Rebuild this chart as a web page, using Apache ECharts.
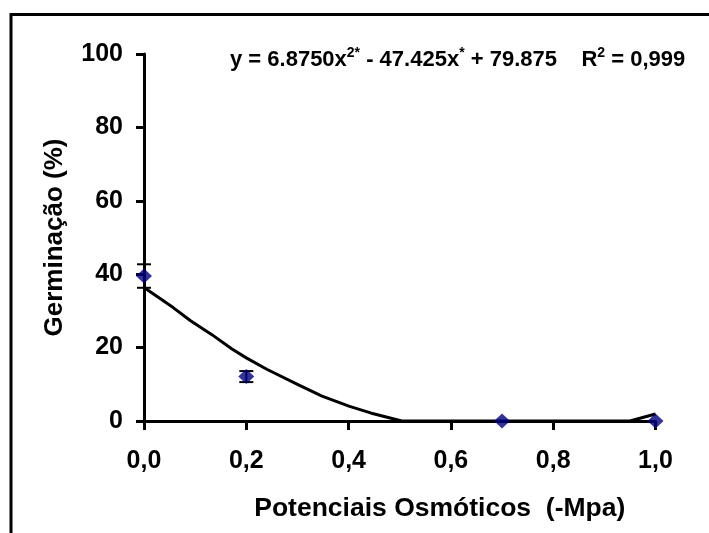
<!DOCTYPE html>
<html>
<head>
<meta charset="utf-8">
<script src="https://cdn.jsdelivr.net/npm/echarts@6/dist/echarts.min.js"></script>
<style>
  html, body { margin: 0; padding: 0; background: #fff; }
  #chart { width: 709px; height: 533px; }
</style>
</head>
<body>
<div id="chart"></div>
<script>
// measured germination points
const potenciais = [0, 0.2, 0.7, 1.0];
const germinacao = [39.5, 12.1, 0, 0];
const erro = [3.2, 1.5, 0, 0];

// trendline as drawn
const curvaX = [0, 0.057, 0.091, 0.132, 0.172, 0.2, 0.24, 0.301, 0.348, 0.402, 0.443, 0.504, 0.95, 1.0];
const curvaY = [36.4, 30.9, 27.3, 23.6, 19.6, 17.2, 14.1, 9.9, 6.8, 4.0, 2.2, 0, 0, 1.9];

const xTicks = { min: 0, max: 1, interval: 0.2 };
const yTicks = { min: 0, max: 100, interval: 20 };

const font = '"Liberation Sans", Arial, sans-serif';

const chart = echarts.init(document.getElementById('chart'));

const errData = potenciais
  .map((x, i) => [x, germinacao[i] - erro[i], germinacao[i] + erro[i]])
  .filter((d, i) => erro[i] > 0);

chart.setOption({
  animation: false,
  backgroundColor: '#fff',
  graphic: [
    {
      type: 'rect',
      shape: { x: 11, y: 14.5, width: 730, height: 560 },
      style: { fill: 'none', stroke: '#000', lineWidth: 3 },
      silent: true
    }
  ],
  title: {
    left: 225,
    top: 41,
    text: '{a|y = 6.8750x}{s|2*}{a| - 47.425x}{s|*}{a| + 79.875    R}{s|2}{a| = 0,999}',
    textStyle: {
      rich: {
        a: { fontFamily: font, fontWeight: 'bold', fontSize: 22, color: '#000', lineHeight: 27 },
        s: { fontFamily: font, fontWeight: 'bold', fontSize: 14, color: '#000', lineHeight: 15, verticalAlign: 'top' }
      }
    }
  },
  grid: { left: 144, right: 53.5, top: 54, bottom: 112, containLabel: false },
  xAxis: {
    type: 'value',
    min: xTicks.min,
    max: xTicks.max,
    interval: xTicks.interval,
    name: 'Potenciais Osmóticos  (-Mpa)',
    nameLocation: 'middle',
    nameGap: 74,
    nameTextStyle: { fontFamily: font, fontWeight: 'bold', fontSize: 26.5, color: '#000', padding: [0, 0, 0, 80] },
    axisLine: { show: true, onZero: false, lineStyle: { color: '#000', width: 3 } },
    axisTick: { show: true, length: 9, lineStyle: { color: '#000', width: 3 } },
    axisLabel: {
      margin: 28,
      fontFamily: font, fontWeight: 'bold', fontSize: 25, color: '#000',
      formatter: v => v.toFixed(1).replace('.', ',')
    },
    splitLine: { show: false }
  },
  yAxis: {
    type: 'value',
    min: yTicks.min,
    max: yTicks.max,
    interval: yTicks.interval,
    name: 'Germinação (%)',
    nameLocation: 'middle',
    nameRotate: 90,
    nameGap: 76,
    nameTextStyle: { fontFamily: font, fontWeight: 'bold', fontSize: 26, color: '#000' },
    axisLine: { show: true, lineStyle: { color: '#000', width: 3 } },
    axisTick: { show: true, length: 8, lineStyle: { color: '#000', width: 3 } },
    axisLabel: { margin: 21, fontFamily: font, fontWeight: 'bold', fontSize: 25, color: '#000' },
    splitLine: { show: false }
  },
  series: [
    {
      type: 'line',
      data: curvaX.map((x, i) => [x, curvaY[i]]),
      symbol: 'none',
      smooth: false,
      lineStyle: { color: '#000', width: 3, join: 'round' },
      z: 2
    },
    {
      type: 'custom',
      data: errData,
      z: 3,
      renderItem: (params, api) => {
        const x = api.value(0);
        const lo = api.coord([x, api.value(1)]);
        const hi = api.coord([x, api.value(2)]);
        const w = 7;
        const st = { stroke: '#000', lineWidth: 2 };
        return {
          type: 'group',
          children: [
            { type: 'line', shape: { x1: lo[0], y1: lo[1], x2: hi[0], y2: hi[1] }, style: st },
            { type: 'line', shape: { x1: hi[0] - w, y1: hi[1], x2: hi[0] + w, y2: hi[1] }, style: st },
            { type: 'line', shape: { x1: lo[0] - w, y1: lo[1], x2: lo[0] + w, y2: lo[1] }, style: st }
          ]
        };
      }
    },
    {
      type: 'scatter',
      data: potenciais.map((x, i) => [x, germinacao[i]]),
      symbol: 'diamond',
      symbolSize: [16, 15],
      itemStyle: { color: '#000080' },
      clip: false,
      z: 4
    }
  ]
});
</script>
</body>
</html>
